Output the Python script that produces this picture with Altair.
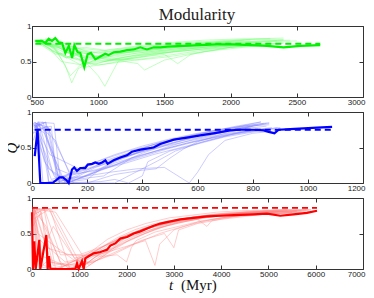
import altair as alt
import pandas as pd

# ---------------- Panel 1 (green) ----------------
g_bold_t = [525, 575, 600, 626, 651, 676, 702, 727, 752, 778, 803, 820, 845, 865, 895, 920, 945, 978,
            1016, 1053, 1078, 1117, 1167, 1218, 1268, 1318, 1368, 1419, 1470, 1520, 1645, 1770, 1897,
            2023, 2149, 2275, 2400, 2526, 2677]
g_bold_q = [0.79, 0.79, 0.76, 0.82, 0.79, 0.83, 0.77, 0.76, 0.62, 0.72, 0.55, 0.73, 0.63, 0.62, 0.42,
            0.60, 0.62, 0.53, 0.57, 0.61, 0.59, 0.63, 0.64, 0.66, 0.67, 0.70, 0.67, 0.70, 0.70, 0.71,
            0.72, 0.73, 0.74, 0.74, 0.73, 0.72, 0.70, 0.72, 0.73]
g_dash_t = [525, 2677]
g_dash_q = [0.75, 0.75]
g_runs = [
    ([520, 600, 700, 800, 900, 1000, 1200, 1500, 1800, 2100, 2400], [0.80, 0.78, 0.70, 0.60, 0.55, 0.58, 0.64, 0.70, 0.75, 0.78, 0.80]),
    ([540, 650, 750, 800, 850, 1000, 1300, 1600, 1900, 2200], [0.78, 0.74, 0.45, 0.20, 0.40, 0.55, 0.62, 0.68, 0.72, 0.76]),
    ([560, 700, 850, 1000, 1050, 1150, 1400, 1700, 2000, 2300], [0.76, 0.72, 0.60, 0.30, 0.15, 0.50, 0.60, 0.66, 0.72, 0.76]),
    ([530, 650, 800, 950, 1100, 1300, 1600, 1900, 2200, 2400], [0.80, 0.65, 0.55, 0.50, 0.58, 0.66, 0.72, 0.78, 0.82, 0.83]),
    ([550, 700, 900, 1100, 1300, 1500, 1800, 2100], [0.77, 0.70, 0.48, 0.52, 0.60, 0.65, 0.70, 0.74]),
    ([600, 750, 900, 1000, 1200, 1300, 1350, 1500, 1800, 2000, 2200], [0.82, 0.75, 0.65, 0.55, 0.50, 0.47, 0.38, 0.52, 0.64, 0.70, 0.74]),
    ([520, 680, 850, 1000, 1200, 1400, 1600, 1800, 2000, 2300], [0.79, 0.60, 0.65, 0.62, 0.68, 0.72, 0.76, 0.78, 0.80, 0.82]),
    ([570, 720, 880, 1050, 1250, 1500, 1600, 1700, 2000, 2350], [0.75, 0.68, 0.58, 0.50, 0.55, 0.60, 0.47, 0.60, 0.70, 0.76]),
    ([540, 760, 820, 950, 1150, 1400, 1700, 2000, 2300, 2500], [0.78, 0.55, 0.62, 0.45, 0.55, 0.62, 0.68, 0.74, 0.78, 0.79]),
    ([560, 700, 800, 1000, 1200, 1500, 1800, 2100], [0.81, 0.80, 0.70, 0.62, 0.62, 0.68, 0.74, 0.80]),
    ([600, 700, 800, 900, 1100, 1300, 1600, 1900, 2200], [0.77, 0.62, 0.52, 0.42, 0.48, 0.58, 0.64, 0.70, 0.75]),
    ([520, 650, 780, 900, 1050, 1300, 1500, 1800, 2100, 2400], [0.78, 0.72, 0.66, 0.70, 0.66, 0.72, 0.76, 0.80, 0.82, 0.81]),
    ([580, 720, 850, 1000, 1200, 1450, 1700, 2000, 2300], [0.80, 0.50, 0.46, 0.48, 0.56, 0.62, 0.66, 0.70, 0.73]),
    ([550, 650, 750, 850, 1000, 1200, 1500, 1800, 2100, 2400], [0.79, 0.70, 0.58, 0.52, 0.45, 0.50, 0.58, 0.66, 0.72, 0.76]),
    ([530, 700, 900, 1100, 1300, 1500, 1700, 2000], [0.76, 0.74, 0.68, 0.64, 0.68, 0.72, 0.75, 0.78]),
    ([560, 800, 950, 1100, 1300, 1500, 1800, 2100, 2400], [0.77, 0.68, 0.58, 0.54, 0.52, 0.56, 0.64, 0.70, 0.76]),
    ([520, 600, 680, 760, 850, 1000, 1250, 1550, 1850, 2150], [0.80, 0.72, 0.62, 0.55, 0.60, 0.64, 0.70, 0.74, 0.77, 0.80]),
    ([540, 640, 740, 860, 960, 1100, 1350, 1650, 1950, 2250, 2450], [0.78, 0.76, 0.68, 0.57, 0.52, 0.60, 0.66, 0.71, 0.76, 0.79, 0.80]),
    ([560, 680, 790, 900, 1000, 1150, 1350, 1600, 1900, 2200], [0.79, 0.68, 0.30, 0.52, 0.57, 0.62, 0.65, 0.70, 0.74, 0.77]),
    ([600, 720, 840, 980, 1120, 1300, 1550, 1800, 2050, 2350], [0.80, 0.73, 0.66, 0.58, 0.56, 0.62, 0.67, 0.72, 0.76, 0.79]),
    ([530, 620, 730, 840, 950, 1100, 1300, 1500, 1700, 1950, 2200], [0.77, 0.74, 0.64, 0.60, 0.56, 0.52, 0.55, 0.62, 0.68, 0.72, 0.74]),
]
g_ticks = [500, 1000, 1500, 2000, 2500, 3000]

# ---------------- Panel 2 (blue) ----------------
b_bold_t = [10, 20, 30, 48, 75, 100, 112, 125, 133, 145, 153, 163, 175, 193, 202, 218, 229, 242, 254,
            266, 274, 296, 320, 344, 362, 393, 441, 465, 514, 562, 610, 658, 718, 755, 804, 840, 858,
            879, 894, 936, 985, 1033, 1088]
b_bold_q = [0.38, 0.75, 0.0, 0.0, 0.0, 0.08, 0.08, 0.04, 0.0, 0.19, 0.22, 0.17, 0.21, 0.21, 0.26, 0.27,
            0.29, 0.27, 0.29, 0.32, 0.27, 0.32, 0.36, 0.39, 0.44, 0.47, 0.50, 0.55, 0.61, 0.64, 0.67,
            0.70, 0.74, 0.75, 0.75, 0.74, 0.72, 0.70, 0.75, 0.76, 0.77, 0.78, 0.79]
b_dash_t = [10, 1088]
b_dash_q = [0.75, 0.75]
b_runs = [
    ([5, 20, 40, 100, 150, 200, 300, 400, 500, 600, 700, 800, 860], [0.70, 0.85, 0, 0.05, 0.15, 0.25, 0.40, 0.52, 0.62, 0.70, 0.76, 0.82, 0.85]),
    ([10, 50, 60, 120, 180, 250, 350, 450, 550, 650, 750, 850], [0.80, 0.85, 0, 0.10, 0.22, 0.32, 0.45, 0.55, 0.63, 0.70, 0.76, 0.80]),
    ([5, 70, 90, 150, 200, 300, 400, 500, 600, 700, 800, 900], [0.75, 0.80, 0, 0.08, 0.10, 0.28, 0.40, 0.50, 0.60, 0.68, 0.74, 0.78]),
    ([15, 30, 80, 100, 200, 250, 300, 380, 460, 560, 660, 760, 840], [0.82, 0.60, 0.10, 0, 0.05, 0.20, 0.30, 0.42, 0.55, 0.65, 0.74, 0.80, 0.84]),
    ([8, 40, 110, 130, 220, 320, 420, 520, 620, 720, 820], [0.85, 0.80, 0.05, 0, 0.15, 0.35, 0.48, 0.58, 0.68, 0.75, 0.82]),
    ([5, 25, 60, 160, 260, 300, 360, 460, 560, 660, 760, 880], [0.60, 0.85, 0.02, 0.05, 0.10, 0.20, 0.35, 0.46, 0.56, 0.64, 0.72, 0.76]),
    ([10, 60, 100, 200, 300, 400, 450, 500, 550, 600, 700, 800], [0.85, 0.78, 0, 0, 0.12, 0.18, 0.20, 0.35, 0.48, 0.58, 0.70, 0.80]),
    ([12, 35, 90, 140, 250, 350, 450, 550, 650, 750, 850], [0.78, 0.82, 0.20, 0.12, 0.25, 0.38, 0.50, 0.60, 0.68, 0.76, 0.84]),
    ([6, 45, 120, 200, 280, 380, 480, 570, 600, 640, 700, 800, 900], [0.82, 0.70, 0, 0.10, 0.15, 0.20, 0.22, 0, 0.15, 0.40, 0.60, 0.70, 0.74]),
    ([5, 30, 70, 180, 280, 380, 480, 580, 680, 780, 870], [0.85, 0.50, 0.05, 0.18, 0.30, 0.42, 0.52, 0.60, 0.68, 0.74, 0.78]),
    ([20, 80, 100, 150, 230, 330, 430, 530, 630, 730, 830], [0.86, 0.84, 0.10, 0.06, 0.22, 0.36, 0.50, 0.62, 0.70, 0.78, 0.86]),
    ([5, 55, 140, 240, 340, 440, 540, 640, 740, 840, 880], [0.70, 0.80, 0.12, 0.18, 0.28, 0.40, 0.50, 0.60, 0.70, 0.76, 0.70]),
    ([10, 40, 100, 250, 300, 350, 400, 420, 500, 600, 700, 850], [0.80, 0.86, 0, 0.02, 0.05, 0, 0.10, 0.30, 0.45, 0.55, 0.65, 0.75]),
    ([8, 65, 170, 270, 370, 470, 570, 670, 770, 860], [0.84, 0.40, 0.20, 0.32, 0.45, 0.58, 0.66, 0.72, 0.80, 0.82]),
    ([10, 45, 95, 180, 260, 330, 410, 500, 590, 680, 770, 860], [0.86, 0.30, 0.05, 0.08, 0.20, 0.30, 0.40, 0.52, 0.62, 0.70, 0.78, 0.84]),
    ([5, 25, 75, 130, 210, 300, 400, 500, 600, 700, 790], [0.80, 0.86, 0.15, 0.0, 0.12, 0.25, 0.42, 0.55, 0.66, 0.74, 0.80]),
    ([15, 60, 110, 200, 290, 390, 490, 590, 690, 790, 890], [0.84, 0.20, 0.08, 0.16, 0.24, 0.36, 0.48, 0.58, 0.66, 0.72, 0.78]),
    ([8, 50, 100, 160, 240, 340, 440, 540, 640, 740, 830], [0.78, 0.86, 0.02, 0.10, 0.26, 0.40, 0.54, 0.64, 0.72, 0.80, 0.86]),
    ([12, 85, 150, 300, 360, 450, 520, 620, 720, 820], [0.85, 0.60, 0.0, 0.0, 0.12, 0.30, 0.45, 0.58, 0.68, 0.76]),
]
b_ticks = [0, 200, 400, 600, 800, 1000, 1200]

# ---------------- Panel 3 (red) ----------------
r_bold_t = [0, 21, 49, 78, 155, 176, 303, 331, 360, 388, 916, 952, 987, 1057, 1093, 1128, 1198, 1304,
            1445, 1586, 1657, 1762, 1868, 2009, 2150, 2291, 2432, 2573, 2714, 2855, 3137, 3419, 3701,
            3983, 4265, 4688, 4970, 5251, 5533, 5815, 6027]
r_bold_q = [0.80, 0.0, 0.39, 0.0, 0.41, 0.0, 0.48, 0.0, 0.18, 0.0, 0.0, 0.08, 0.0, 0.11, 0.0, 0.15, 0.18,
            0.22, 0.24, 0.27, 0.33, 0.36, 0.43, 0.45, 0.50, 0.53, 0.57, 0.61, 0.64, 0.66, 0.70, 0.72,
            0.74, 0.75, 0.76, 0.77, 0.78, 0.75, 0.77, 0.79, 0.82]
r_dash_t = [0, 6027]
r_dash_q = [0.86, 0.86]
r_runs = [
    ([20, 150, 300, 900, 1200, 1600, 2000, 2500, 3000, 3500, 4000, 4500, 5000, 5500, 5900], [0.85, 0, 0.10, 0.05, 0.20, 0.35, 0.48, 0.60, 0.68, 0.74, 0.78, 0.80, 0.82, 0.83, 0.84]),
    ([50, 250, 500, 1000, 1400, 1800, 2200, 2700, 3200, 3700, 4200, 4700, 5200, 5700], [0.80, 0.85, 0, 0.10, 0.25, 0.40, 0.52, 0.62, 0.70, 0.75, 0.78, 0.80, 0.81, 0.82]),
    ([10, 100, 600, 800, 1300, 1700, 2100, 2600, 3100, 3600, 4100, 4600, 5100, 5600], [0.70, 0.85, 0.10, 0, 0.12, 0.28, 0.42, 0.56, 0.65, 0.72, 0.76, 0.78, 0.80, 0.81]),
    ([30, 400, 1000, 1100, 1500, 1900, 2300, 2800, 3300, 3800, 4300, 4800, 5300, 5800], [0.85, 0.85, 0.10, 0, 0.18, 0.38, 0.50, 0.62, 0.70, 0.74, 0.76, 0.77, 0.78, 0.79]),
    ([15, 200, 350, 700, 1200, 1600, 2000, 2400, 2900, 3400, 3900, 4400, 4900, 5400], [0.60, 0.80, 0, 0.05, 0.22, 0.42, 0.55, 0.64, 0.72, 0.76, 0.80, 0.82, 0.83, 0.84]),
    ([40, 300, 800, 1500, 1800, 2000, 2100, 2200, 2600, 3100, 3600, 4100, 4600, 5200, 5700], [0.85, 0.30, 0.20, 0.18, 0.20, 0.10, 0.30, 0.40, 0.52, 0.60, 0.68, 0.73, 0.76, 0.78, 0.80]),
    ([5, 120, 450, 900, 1400, 1900, 2400, 2600, 2700, 3000, 3500, 4000, 4500, 5000, 5500], [0.82, 0.10, 0.60, 0.15, 0.20, 0.30, 0.40, 0.05, 0.35, 0.55, 0.66, 0.72, 0.76, 0.78, 0.80]),
    ([25, 180, 700, 1100, 1600, 2100, 2600, 3100, 3600, 4100, 4600, 5100, 5600], [0.85, 0.40, 0.10, 0.15, 0.35, 0.50, 0.60, 0.68, 0.72, 0.75, 0.78, 0.80, 0.82]),
    ([60, 400, 1000, 1300, 1700, 2000, 2500, 3000, 3500, 3700, 3800, 4300, 4800, 5300, 5900], [0.85, 0.10, 0, 0.15, 0.30, 0.45, 0.58, 0.66, 0.70, 0.60, 0.68, 0.74, 0.77, 0.79, 0.81]),
    ([10, 260, 600, 1000, 1500, 2000, 2500, 3000, 3500, 4000, 4500, 5000, 5500], [0.75, 0.85, 0.20, 0.20, 0.32, 0.44, 0.55, 0.64, 0.70, 0.76, 0.80, 0.82, 0.84]),
    ([35, 500, 1200, 1600, 2000, 2400, 2800, 3200, 3600, 4100, 4600, 5100, 5600], [0.85, 0.80, 0.05, 0.22, 0.38, 0.50, 0.60, 0.66, 0.72, 0.76, 0.79, 0.81, 0.82]),
    ([20, 140, 700, 1300, 1800, 2300, 2800, 3000, 3100, 3500, 4000, 4500, 5000, 5500], [0.85, 0.20, 0.05, 0.10, 0.25, 0.40, 0.50, 0.30, 0.55, 0.64, 0.70, 0.74, 0.78, 0.80]),
    ([45, 350, 900, 1400, 1900, 2400, 2900, 3400, 3900, 4400, 4900, 5400, 5850], [0.78, 0.85, 0.15, 0.28, 0.45, 0.58, 0.66, 0.72, 0.76, 0.78, 0.80, 0.82, 0.83]),
    ([15, 220, 800, 1200, 1700, 2200, 2700, 3200, 3700, 4200, 4700, 5200], [0.85, 0.02, 0, 0.08, 0.20, 0.36, 0.50, 0.60, 0.68, 0.74, 0.78, 0.80]),
    ([25, 300, 650, 1100, 1500, 1900, 2300, 2700, 3100, 3500, 4000, 4500, 5000, 5500, 5900], [0.85, 0.60, 0.0, 0.05, 0.25, 0.42, 0.55, 0.64, 0.70, 0.74, 0.77, 0.79, 0.80, 0.82, 0.83]),
    ([10, 160, 450, 1000, 1400, 1800, 2200, 2600, 3000, 3400, 3800, 4300, 4800, 5300, 5800], [0.80, 0.85, 0.05, 0.12, 0.28, 0.44, 0.56, 0.64, 0.69, 0.73, 0.76, 0.78, 0.79, 0.80, 0.82]),
    ([40, 240, 550, 1150, 1500, 1900, 2300, 2700, 3100, 3500, 3900, 4400, 4900, 5400], [0.85, 0.05, 0.0, 0.20, 0.22, 0.36, 0.48, 0.58, 0.66, 0.72, 0.76, 0.79, 0.81, 0.82]),
    ([20, 380, 800, 1300, 1700, 2100, 2500, 2900, 3300, 3800, 4300, 4800, 5300, 5800], [0.70, 0.85, 0.0, 0.18, 0.34, 0.48, 0.58, 0.66, 0.72, 0.77, 0.80, 0.82, 0.83, 0.84]),
    ([30, 120, 900, 1200, 1600, 2000, 2400, 2800, 3300, 3800, 4300, 4800, 5300], [0.85, 0.50, 0.12, 0.10, 0.30, 0.46, 0.58, 0.66, 0.72, 0.76, 0.79, 0.81, 0.82]),
]
r_ticks = [0, 1000, 2000, 3000, 4000, 5000, 6000, 7000]

y_ticks = [0, 0.5, 1]

W, H = 331, 71
LABEL_FONT = "Liberation Sans"
SERIF = "Liberation Serif"


def runs_df(runs):
    rows = []
    for i, (ts, qs) in enumerate(runs):
        for t, q in zip(ts, qs):
            rows.append({"run": i, "t": t, "Q": q})
    return pd.DataFrame(rows)


def panel(runs, bold_t, bold_q, dash_t, dash_q, xdom, xticks, light, bold, ytitle=None, xtitle=False):
    xs = alt.Scale(domain=xdom, nice=False, zero=False)
    ys = alt.Scale(domain=[0, 1], nice=False)
    x_bottom = alt.Axis(values=xticks, orient="bottom", tickSize=4, offset=-4, domain=False, grid=False,
                        labelPadding=1, title=None, format="d", labelFontSize=8, labelFont=LABEL_FONT,
                        labelColor="#222", tickColor="#333", labelFlush=True, labelFlushOffset=2)
    y_left_kwargs = dict(values=y_ticks, orient="left", tickSize=4, offset=-4, domain=False, grid=False,
                         labelPadding=1, format="~g", labelFontSize=8, labelFont=LABEL_FONT,
                         labelColor="#222", tickColor="#333")
    if ytitle:
        y_left = alt.Axis(title=ytitle, titleFont=SERIF, titleFontStyle="italic", titleFontSize=15,
                          titleFontWeight="normal", titlePadding=0, titleColor="#111", **y_left_kwargs)
    else:
        y_left = alt.Axis(title=None, **y_left_kwargs)
    x_top = alt.Axis(values=xticks, orient="top", tickSize=4, offset=-4, domain=False, grid=False,
                     labels=False, title=None, tickColor="#333")
    y_right = alt.Axis(values=y_ticks, orient="right", tickSize=4, offset=-4, domain=False, grid=False,
                       labels=False, title=None, tickColor="#333")

    light_layer = alt.Chart(runs_df(runs)).mark_line(strokeWidth=1, opacity=0.4, color=light).encode(
        x=alt.X("t:Q", scale=xs, axis=None),
        y=alt.Y("Q:Q", scale=ys, axis=None),
        detail="run:N",
    )
    bold_layer = alt.Chart(pd.DataFrame({"t": bold_t, "Q": bold_q})).mark_line(
        strokeWidth=2.2, color=bold).encode(
        x=alt.X("t:Q", scale=xs, axis=x_bottom),
        y=alt.Y("Q:Q", scale=ys, axis=y_left),
    )
    dash_layer = alt.Chart(pd.DataFrame({"t": dash_t, "Q": dash_q})).mark_line(
        strokeWidth=1.8, strokeDash=[6, 4], color=bold).encode(
        x=alt.X("t:Q", scale=xs, axis=x_top),
        y=alt.Y("Q:Q", scale=ys, axis=y_right),
    )
    layers = [light_layer, bold_layer, dash_layer]
    if xtitle:
        lab = pd.DataFrame({"s": ["t"]})
        t_txt = alt.Chart(lab).mark_text(font=SERIF, fontSize=15, fontStyle="italic", align="left",
                                         baseline="alphabetic", color="#111").encode(
            x=alt.value(137), y=alt.value(H + 21), text="s:N")
        lab2 = pd.DataFrame({"s": ["(Myr)"]})
        m_txt = alt.Chart(lab2).mark_text(font=SERIF, fontSize=15, align="left",
                                          baseline="alphabetic", color="#111").encode(
            x=alt.value(149), y=alt.value(H + 21), text="s:N")
        layers += [t_txt, m_txt]
    return alt.layer(*layers).properties(width=W, height=H)


p1 = panel(g_runs, g_bold_t, g_bold_q, g_dash_t, g_dash_q, [500, 3000], g_ticks, "#66ff66", "#00f000")
p2 = panel(b_runs, b_bold_t, b_bold_q, b_dash_t, b_dash_q, [0, 1200], b_ticks, "#8080ff", "#0000ff", ytitle="Q")
p3 = panel(r_runs, r_bold_t, r_bold_q, r_dash_t, r_dash_q, [0, 7000], r_ticks, "#ff8080", "#ff0000", xtitle=True)

chart = alt.vconcat(p1, p2, p3, spacing=15, bounds="flush").properties(
    title=alt.TitleParams("Modularity", font=SERIF, fontSize=17, fontWeight="normal", color="#222",
                          anchor="middle", offset=-2, dx=12),
    padding={"left": -4, "top": -3, "right": 0, "bottom": 0},
).configure_view(stroke="#333", strokeWidth=1).configure_concat(spacing=15)

chart.save("out.html", embed_options={"renderer": "svg", "actions": False})
